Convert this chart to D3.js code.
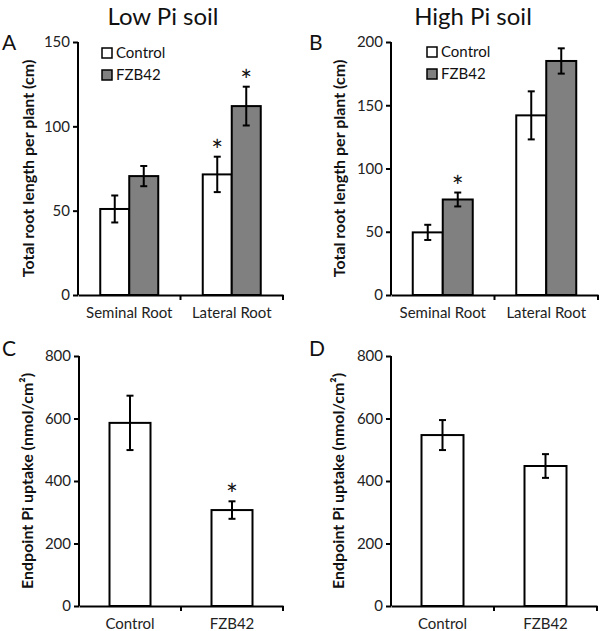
<!DOCTYPE html>
<html><head><meta charset="utf-8">
<script src="https://cdn.jsdelivr.net/npm/d3@7"></script>
<style>body{margin:0;background:#fff}svg{display:block}</style>
</head><body>
<script>
// Data
const rootCategories = ["Seminal Root", "Lateral Root"];
const seriesNames = ["Control", "FZB42"];
const lowControl = [51, 71.5];
const lowControlErr = [8, 10.5];
const lowFZB = [70.5, 112];
const lowFZBErr = [6, 11.5];
const lowSig = [[false, false], [true, true]];
const highControl = [49.5, 142];
const highControlErr = [6, 19];
const highFZB = [75.5, 185];
const highFZBErr = [5.5, 10];
const highSig = [[false, true], [false, false]];
const uptakeCategories = ["Control", "FZB42"];
const lowUptake = [586, 307];
const lowUptakeErr = [87, 28];
const lowUptakeSig = [false, true];
const highUptake = [547, 448];
const highUptakeErr = [48, 38];
const highUptakeSig = [false, false];
const ticksA = [0, 50, 100, 150];
const ticksB = [0, 50, 100, 150, 200];
const ticksCD = [0, 200, 400, 600, 800];

const FONT = "Lato, 'Open Sans', sans-serif";
const svg = d3.select("body").append("svg").attr("width", 600).attr("height", 631);

svg.append("text").attr("x", 163).attr("y", 25).attr("text-anchor", "middle")
  .style("font-family", FONT).style("font-size", "24px").attr("fill", "#111").text("Low Pi soil");
svg.append("text").attr("x", 473).attr("y", 25).attr("text-anchor", "middle")
  .style("font-family", FONT).style("font-size", "24px").attr("fill", "#111").text("High Pi soil");

function panel(o) {
  const g = svg.append("g");
  const y = d3.scaleLinear().domain([0, o.ymax]).range([o.y0, o.y1]);
  const x = d3.scaleBand().domain(o.cats).range([o.x0, o.x1]).paddingInner(0).paddingOuter(0);
  g.append("text").attr("x", o.lx).attr("y", o.ly).style("font-family", FONT)
    .style("font-size", "21px").attr("fill", "#111").text(o.letter);
  g.append("text").attr("transform", `translate(${o.ylx},${(o.y0 + o.y1) / 2}) rotate(-90)`)
    .attr("text-anchor", "middle").style("font-family", FONT).style("font-weight", "bold")
    .style("font-size", "16px").attr("fill", "#111").text(o.ylabel);
  const nS = o.series.length;
  o.cats.forEach((c, i) => {
    const cx = x(c) + x.bandwidth() / 2;
    o.series.forEach((s, j) => {
      const bx = cx - (nS * o.bw) / 2 + j * o.bw;
      const v = s.values[i], e = s.errs[i];
      g.append("rect").attr("x", bx).attr("y", y(v)).attr("width", o.bw).attr("height", y(0) - y(v))
        .attr("fill", s.color).attr("stroke", "#000").attr("stroke-width", 2);
      const mx = bx + o.bw / 2;
      g.append("line").attr("x1", mx).attr("x2", mx).attr("y1", y(v + e)).attr("y2", y(v - e))
        .attr("stroke", "#000").attr("stroke-width", 2);
      [v + e, v - e].forEach(t => g.append("line").attr("x1", mx - 3.5).attr("x2", mx + 3.5)
        .attr("y1", y(t)).attr("y2", y(t)).attr("stroke", "#000").attr("stroke-width", 2));
      if (s.sig[i]) {
        g.append("text").attr("x", mx).attr("y", y(v + e) + 4).attr("text-anchor", "middle")
          .style("font-family", FONT).style("font-size", "28px").attr("fill", "#111").text("*");
      }
    });
  });
  const ya = g.append("g").attr("transform", `translate(${o.x0},0)`)
    .call(d3.axisLeft(y).tickValues(o.ticks).tickSize(5).tickSizeOuter(0).tickPadding(3));
  ya.select(".domain").attr("stroke", "#000").attr("stroke-width", 2)
    .attr("d", `M0,${o.y0}V${o.y1}`);
  ya.selectAll(".tick line").attr("stroke", "#000").attr("stroke-width", 2);
  ya.selectAll("text").style("font-family", FONT).style("font-size", "15px").attr("fill", "#222");
  const xa = g.append("g").attr("transform", `translate(0,${o.y0})`)
    .call(d3.axisBottom(x).tickSize(0).tickPadding(12));
  xa.select(".domain").attr("stroke", "#000").attr("stroke-width", 2);
  xa.selectAll("text").style("font-family", FONT).style("font-size", "15px").attr("fill", "#222");
  const bounds = o.cats.map(c => x(c)).concat([o.x1]);
  bounds.forEach((b, k) => {
    if (k === 0) return;
    g.append("line").attr("x1", b).attr("x2", b).attr("y1", o.y0).attr("y2", o.y0 + 5)
      .attr("stroke", "#000").attr("stroke-width", 2);
  });
  if (o.legend) {
    o.series.forEach((s, j) => {
      const ly = o.legend[1] + j * 22;
      g.append("rect").attr("x", o.legend[0]).attr("y", ly).attr("width", 10).attr("height", 10)
        .attr("fill", s.color).attr("stroke", "#000").attr("stroke-width", 1.5);
      g.append("text").attr("x", o.legend[0] + 14).attr("y", ly + 10)
        .style("font-family", FONT).style("font-size", "15px").attr("fill", "#111").text(s.name);
    });
  }
}

panel({letter: "A", lx: 2, ly: 50, ylx: 34, ylabel: "Total root length per plant (cm)",
  x0: 78, x1: 283, y0: 295, y1: 42, ymax: 150, ticks: ticksA, cats: rootCategories, bw: 29,
  legend: [102, 48],
  series: [
    {name: seriesNames[0], values: lowControl, errs: lowControlErr, color: "#fff", sig: lowSig.map(d => d[0])},
    {name: seriesNames[1], values: lowFZB, errs: lowFZBErr, color: "#808080", sig: lowSig.map(d => d[1])}
  ]});

panel({letter: "B", lx: 309, ly: 50, ylx: 345, ylabel: "Total root length per plant (cm)",
  x0: 391, x1: 598, y0: 295, y1: 42, ymax: 200, ticks: ticksB, cats: rootCategories, bw: 30,
  legend: [427, 47],
  series: [
    {name: seriesNames[0], values: highControl, errs: highControlErr, color: "#fff", sig: highSig.map(d => d[0])},
    {name: seriesNames[1], values: highFZB, errs: highFZBErr, color: "#808080", sig: highSig.map(d => d[1])}
  ]});

panel({letter: "C", lx: 2, ly: 356, ylx: 33, ylabel: "Endpoint Pi uptake (nmol/cm²)",
  x0: 79, x1: 283, y0: 606, y1: 356, ymax: 800, ticks: ticksCD, cats: uptakeCategories, bw: 41,
  series: [
    {name: "", values: lowUptake, errs: lowUptakeErr, color: "#fff", sig: lowUptakeSig}
  ]});

panel({letter: "D", lx: 309, ly: 356, ylx: 344, ylabel: "Endpoint Pi uptake (nmol/cm²)",
  x0: 391, x1: 597, y0: 606, y1: 356, ymax: 800, ticks: ticksCD, cats: uptakeCategories, bw: 42,
  series: [
    {name: "", values: highUptake, errs: highUptakeErr, color: "#fff", sig: highUptakeSig}
  ]});
</script>
</body></html>
